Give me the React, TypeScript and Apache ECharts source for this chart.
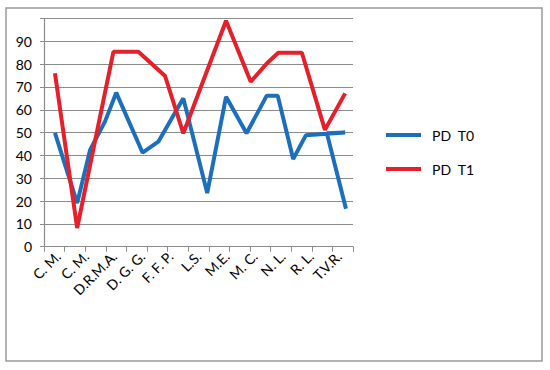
import React, { useEffect, useRef } from "react";
import * as echarts from "echarts";

const categories = ["C. M.", "C. M.", "D.R.M.A.", "D. G. G.", "F. F. P.", "L.S.", "M.E.", "M. C.", "N. L.", "R. L.", "T.V.R."];

const seriesNames = ["PD  T0", "PD  T1"];

// positions along the 11-category axis (category i centred at i + 0.5)
const t0X = [0.39, 1.18, 1.64, 2.17, 2.57, 3.51, 4.07, 4.96, 5.81, 6.48, 7.21, 7.93, 8.32, 8.87, 9.32, 10.72, 10.07, 10.75];
const t0Y = [49.9, 19.1, 42.4, 54.8, 67.5, 41.2, 46, 65, 23.5, 65.7, 49.7, 66.2, 66.2, 38.4, 48.8, 50, 49.7, 16.6];

const t1X = [0.39, 1.18, 2.47, 3.36, 4.31, 4.96, 6.48, 7.36, 7.93, 8.34, 9.18, 10.0, 10.72];
const t1Y = [76, 8.2, 85.4, 85.4, 74.8, 49.7, 99, 72.3, 80.3, 85, 85, 51.2, 67.2];

const yTicks = [0, 10, 20, 30, 40, 50, 60, 70, 80, 90];

export default function App() {
  const ref = useRef<HTMLDivElement>(null);
  useEffect(() => {
    if (!ref.current) return;
    const chart = echarts.init(ref.current, null, { renderer: "svg" });
    const font = "Lato, 'Open Sans', sans-serif";
    const zip = (xs: number[], ys: number[]) => xs.map((x, i) => [x, ys[i]]);
    chart.setOption({
      animation: false,
      backgroundColor: "#ffffff",
      textStyle: { fontFamily: font },
      graphic: [
        {
          type: "rect",
          shape: { x: 6, y: 8, width: 536, height: 353 },
          style: { fill: "none", stroke: "#9a9a9a", lineWidth: 1.5 },
          silent: true,
        },
      ],
      grid: { left: 44, right: 197, top: 18.5, bottom: 123.3, containLabel: false },
      legend: {
        orient: "vertical",
        left: 381,
        top: 123,
        itemWidth: 35,
        itemHeight: 4,
        itemGap: 20,
        icon: "rect",
        data: seriesNames,
        textStyle: { fontSize: 14, color: "#000", fontFamily: font, padding: [0, 0, 0, 6] },
      },
      xAxis: [
        {
          type: "value",
          min: 0,
          max: 11,
          interval: 11 / 15,
          axisLine: { show: true, lineStyle: { color: "#8c8c8c", width: 1.2 } },
          axisTick: { show: true, length: 5, lineStyle: { color: "#8c8c8c" } },
          axisLabel: { show: false },
          splitLine: { show: false },
        },
        {
          type: "category",
          position: "bottom",
          data: categories,
          boundaryGap: true,
          axisLine: { show: false },
          axisTick: { show: false },
          axisLabel: {
            rotate: 45,
            margin: 7,
            interval: 0,
            fontSize: 14,
            color: "#000",
            fontFamily: font,
          },
          splitLine: { show: false },
        },
      ],
      yAxis: {
        type: "value",
        min: 0,
        max: 100,
        interval: 10,
        axisLine: { show: true, lineStyle: { color: "#8c8c8c", width: 1.2 } },
        axisTick: { show: true, length: 4, lineStyle: { color: "#8c8c8c" } },
        axisLabel: {
          fontSize: 14,
          color: "#000",
          margin: 12,
          fontFamily: font,
          formatter: (v: number) => (yTicks.includes(v) ? String(v) : ""),
        },
        splitLine: { show: true, lineStyle: { color: "#8c8c8c", width: 1.2 } },
      },
      series: [
        {
          name: seriesNames[0],
          type: "line",
          xAxisIndex: 0,
          data: zip(t0X, t0Y),
          showSymbol: false,
          symbol: "none",
          lineStyle: { color: "#1c6fbd", width: 4 },
          itemStyle: { color: "#1c6fbd" },
        },
        {
          name: seriesNames[1],
          type: "line",
          xAxisIndex: 0,
          data: zip(t1X, t1Y),
          showSymbol: false,
          symbol: "none",
          lineStyle: { color: "#e5202b", width: 4 },
          itemStyle: { color: "#e5202b" },
        },
      ],
    });
    return () => chart.dispose();
  }, []);
  return <div ref={ref} style={{ width: 550, height: 370, position: "absolute", left: 0, top: 0 }} />;
}
